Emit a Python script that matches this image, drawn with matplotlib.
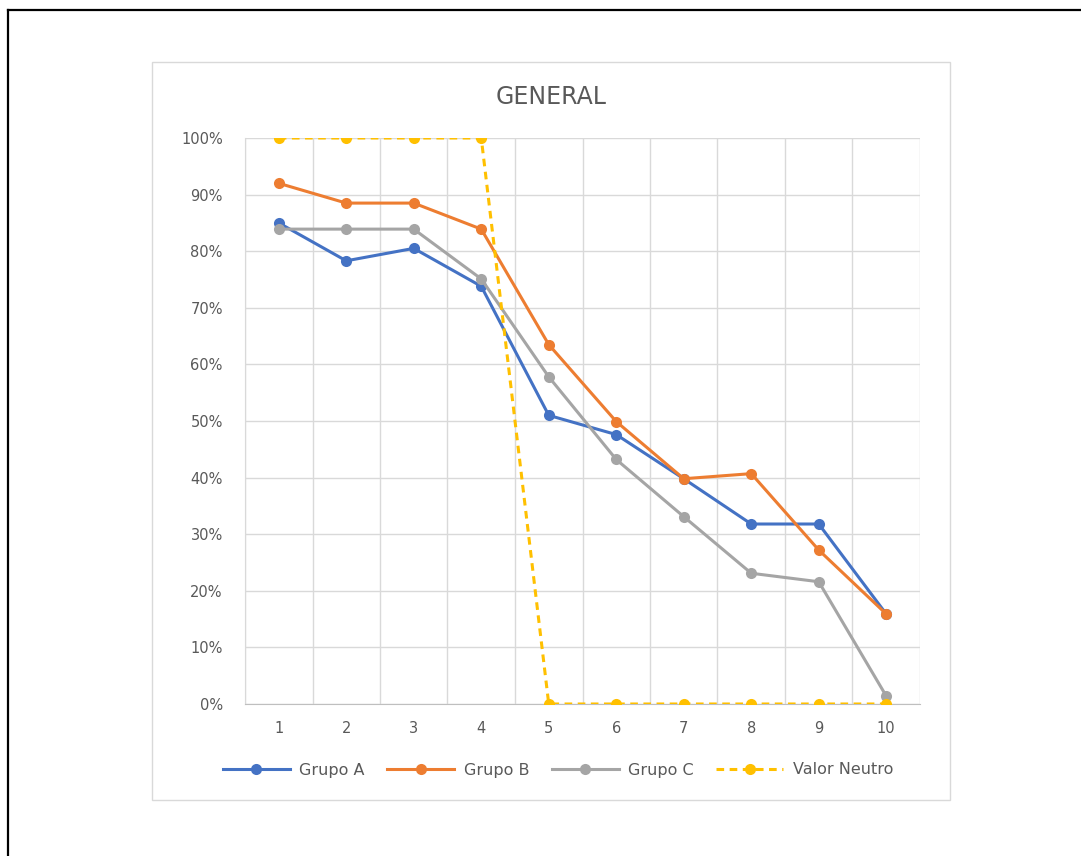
import matplotlib
matplotlib.use("Agg")
import matplotlib.pyplot as plt
from matplotlib.patches import Rectangle
from matplotlib.lines import Line2D
from matplotlib.ticker import FuncFormatter, MultipleLocator

# Data
categorias = [1, 2, 3, 4, 5, 6, 7, 8, 9, 10]
grupo_a = [85.0, 78.3, 80.5, 73.8, 51.0, 47.6, 39.8, 31.8, 31.8, 15.9]
grupo_b = [92.0, 88.5, 88.5, 83.9, 63.5, 49.9, 39.8, 40.7, 27.2, 15.9]
grupo_c = [83.9, 83.9, 83.9, 75.1, 57.8, 43.2, 33.1, 23.1, 21.6, 1.4]
valor_neutro = [100, 100, 100, 100, 0, 0, 0, 0, 0, 0]
series_names = ["Grupo A", "Grupo B", "Grupo C", "Valor Neutro"]
titulo = "GENERAL"

plt.rcParams["font.family"] = ["DejaVu Sans"]

fig = plt.figure(figsize=(10.81, 8.56), dpi=100)
fig.patch.set_facecolor("white")

# Outer frame (left and top edges)
fig.add_artist(Line2D([8 / 1081, 8 / 1081], [0, 1 - 10 / 856], transform=fig.transFigure,
                      color="black", lw=1.6))
fig.add_artist(Line2D([8 / 1081, 1], [1 - 10 / 856, 1 - 10 / 856], transform=fig.transFigure,
                      color="black", lw=1.6))

# Chart area border
fig.add_artist(Rectangle((152 / 1081, 1 - 800 / 856), 798 / 1081, 738 / 856,
                         transform=fig.transFigure, facecolor="white",
                         edgecolor="#d9d9d9", lw=1.0, zorder=0))

ax = fig.add_axes([245 / 1081, 1 - 704 / 856, 675 / 1081, 566 / 856])
ax.set_facecolor("none")

colors = ["#4472C4", "#ED7D31", "#A5A5A5", "#FFC000"]
data = [grupo_a, grupo_b, grupo_c, valor_neutro]
for name, vals, col in zip(series_names, data, colors):
    dashed = name == "Valor Neutro"
    line, = ax.plot(categorias, vals, color=col, lw=2.2, marker="o", markersize=8,
                    markeredgewidth=0, label=name, zorder=3)
    if dashed:
        line.set_dashes((2.5, 1.8))

ax.set_xlim(0.5, 10.5)
ax.set_ylim(0, 100)
ax.yaxis.set_major_locator(MultipleLocator(10))
ax.yaxis.set_major_formatter(FuncFormatter(lambda v, p: f"{int(round(v))}%"))
ax.set_xticks(categorias)
ax.set_xticklabels([str(c) for c in categorias])

# Category boundary gridlines
ax.set_xticks([c + 0.5 for c in [0] + categorias], minor=True)
ax.grid(True, which="minor", axis="x", color="#d9d9d9", lw=1.0)
ax.grid(True, which="major", axis="y", color="#d9d9d9", lw=1.0)
ax.set_axisbelow(True)

for s in ["top", "right"]:
    ax.spines[s].set_visible(False)
ax.spines["left"].set_color("#d9d9d9")
ax.spines["bottom"].set_color("#bfbfbf")
ax.tick_params(axis="both", which="both", length=0, colors="#595959", labelsize=10.5)
ax.tick_params(axis="y", pad=16)
ax.tick_params(axis="x", pad=12)

fig.text(551 / 1081, 1 - 97 / 856, titulo, ha="center", va="center",
         fontsize=17, color="#595959")

handles, labels = ax.get_legend_handles_labels()
fig.legend(handles, labels, loc="center", bbox_to_anchor=(558 / 1081, 1 - 770 / 856),
           ncol=4, frameon=False, fontsize=11.5, labelcolor="#595959", numpoints=1,
           handlelength=4.2, columnspacing=1.4, handletextpad=0.6)

fig.savefig("out.png", dpi=100, facecolor="white")
